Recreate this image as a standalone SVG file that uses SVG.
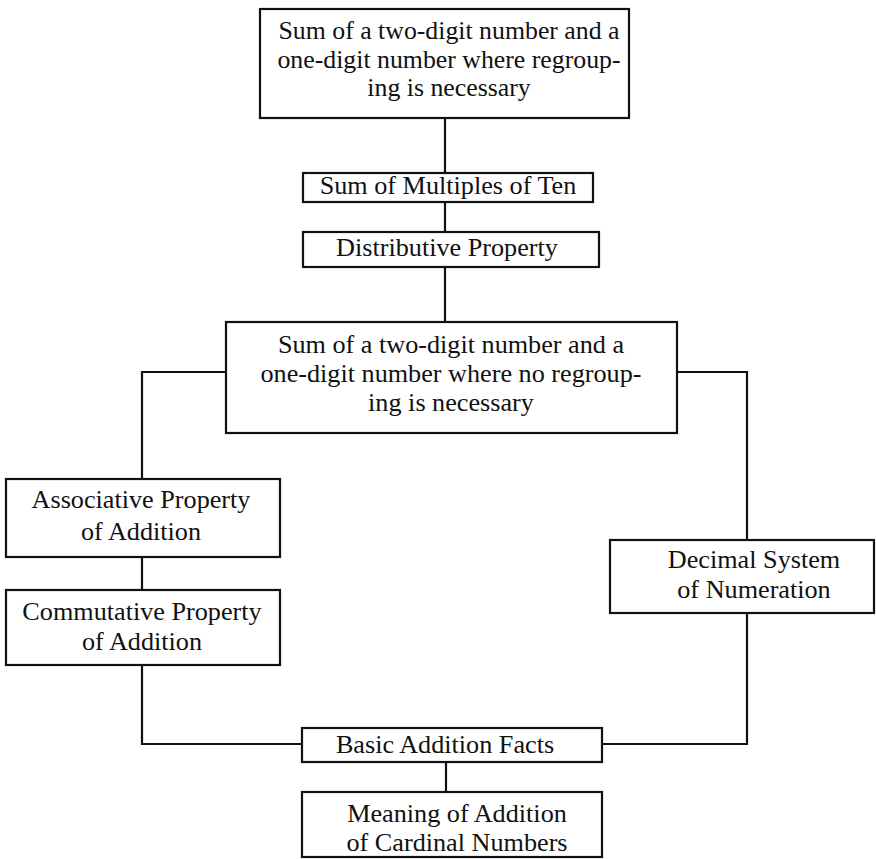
<svg xmlns="http://www.w3.org/2000/svg" width="876" height="860" viewBox="0 0 876 860">
<style>
.box{fill:#fff;stroke:#111;stroke-width:2.2}
.conn{fill:none;stroke:#111;stroke-width:2.2}
text{font-family:"Liberation Serif","Times New Roman",serif;font-size:26.2px;fill:#111;text-anchor:middle}
.t{font-size:25.8px}
</style>
<rect width="876" height="860" fill="#fff"/>
<g id="connectors">
<path class="conn" d="M445,118 V173"/>
<path class="conn" d="M445,202 V232"/>
<path class="conn" d="M445,267 V322"/>
<path class="conn" d="M226,372 H142 V479"/>
<path class="conn" d="M142,557 V590"/>
<path class="conn" d="M142,665 V744 H302"/>
<path class="conn" d="M677,372 H747 V540"/>
<path class="conn" d="M747,613 V744 H602"/>
<path class="conn" d="M446,762 V792"/>
</g>
<g id="n-regroup">
<rect class="box" x="260" y="9" width="369" height="109"/>
<text class="t" x="449" y="39">Sum of a two-digit number and a</text>
<text class="t" x="449" y="67.7">one-digit number where regroup-</text>
<text class="t" x="449" y="96.4">ing is necessary</text>
</g>
<g id="n-multiples">
<rect class="box" x="303" y="173" width="290" height="29"/>
<text x="448" y="194">Sum of Multiples of Ten</text>
</g>
<g id="n-distributive">
<rect class="box" x="303" y="232" width="296" height="35"/>
<text x="447" y="256">Distributive Property</text>
</g>
<g id="n-noregroup">
<rect class="box" x="226" y="322" width="451" height="111"/>
<text x="451" y="353">Sum of a two-digit number and a</text>
<text x="451" y="382">one-digit number where no regroup-</text>
<text x="451" y="411">ing is necessary</text>
</g>
<g id="n-associative">
<rect class="box" x="6" y="479" width="274" height="78"/>
<text x="141" y="508">Associative Property</text>
<text x="141" y="540">of Addition</text>
</g>
<g id="n-commutative">
<rect class="box" x="6" y="590" width="274" height="75"/>
<text x="142" y="620">Commutative Property</text>
<text x="142" y="650">of Addition</text>
</g>
<g id="n-decimal">
<rect class="box" x="610" y="540" width="264" height="73"/>
<text x="754" y="568">Decimal System</text>
<text x="754" y="598">of Numeration</text>
</g>
<g id="n-basic">
<rect class="box" x="302" y="728" width="300" height="34"/>
<text x="445" y="753">Basic Addition Facts</text>
</g>
<g id="n-meaning">
<rect class="box" x="302" y="792" width="300" height="65"/>
<text x="457" y="822">Meaning of Addition</text>
<text x="457" y="851">of Cardinal Numbers</text>
</g>
</svg>
